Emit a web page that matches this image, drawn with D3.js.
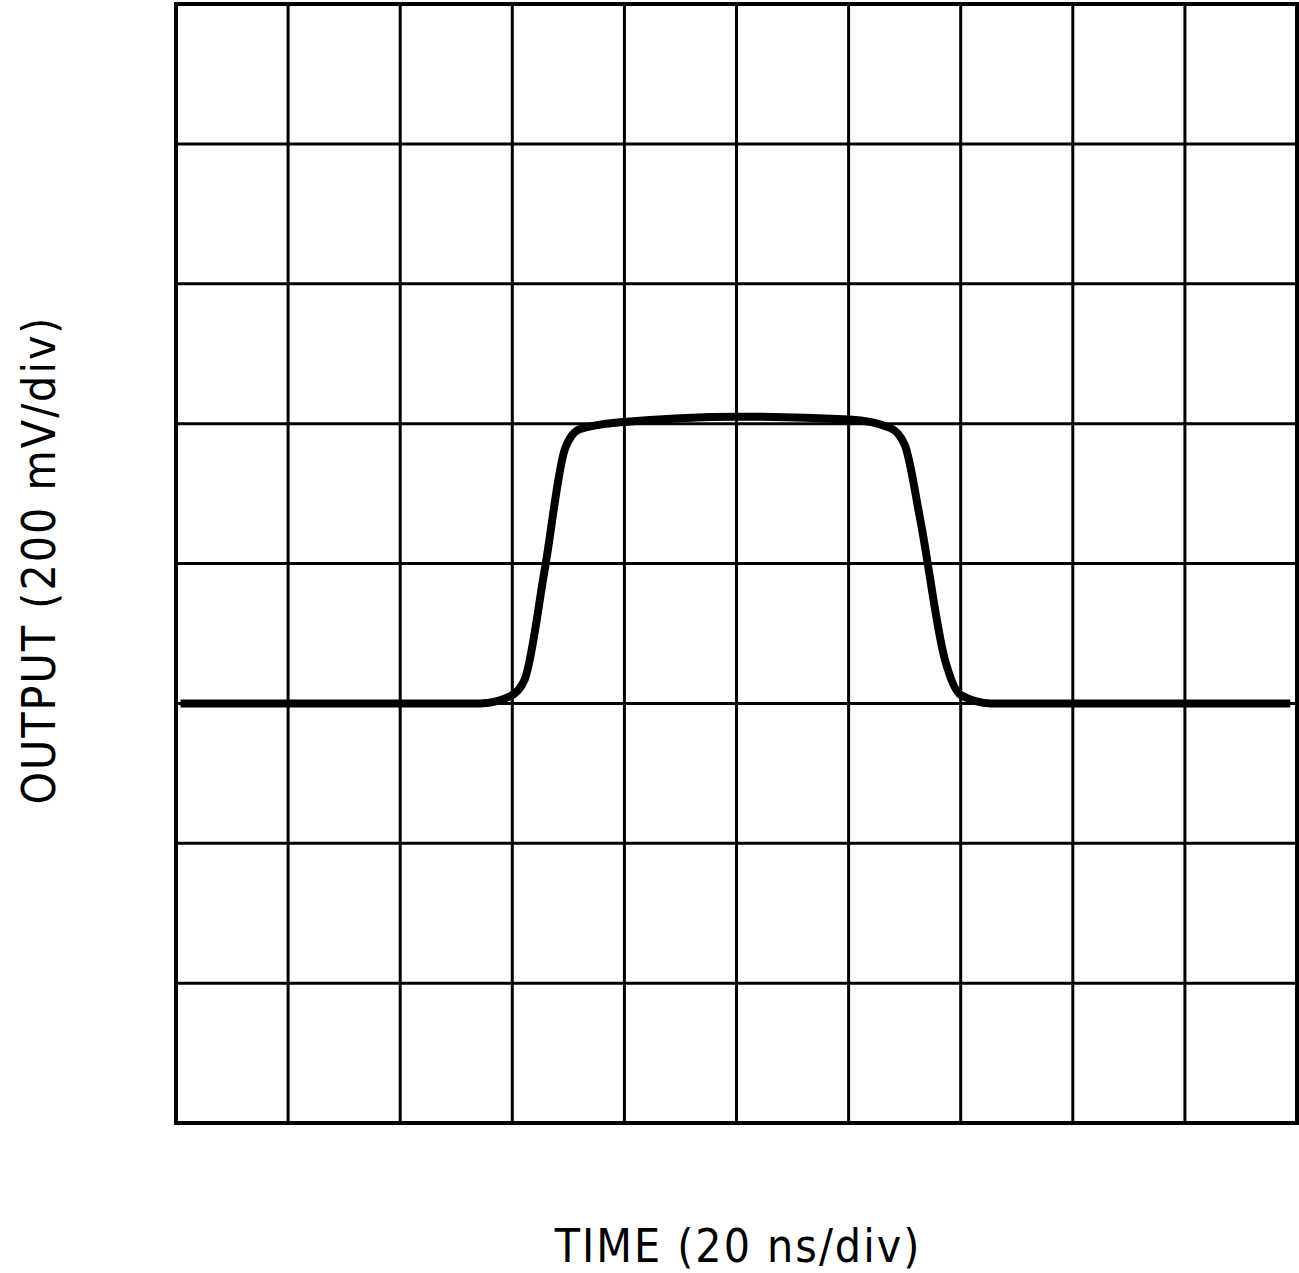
<!DOCTYPE html>
<html>
<head>
<meta charset="utf-8">
<script src="https://cdn.jsdelivr.net/npm/d3@7"></script>
<style>body{margin:0;background:#fff}</style>
</head>
<body>
<svg id="chart" width="1299" height="1273"></svg>
<script>
// waveform in divisions (x: 0..10 time div, y: 0..8 output div)
const timeDiv = [0.04, 2.71, 2.98, 3.11, 3.29, 3.47, 3.6, 3.96, 5.03, 6.01, 6.37, 6.5, 6.64, 6.86, 7.0, 7.27, 9.94];
const outDiv  = [3, 3, 3.05, 3.17, 3.96, 4.82, 4.96, 5.01, 5.05, 5.03, 4.97, 4.85, 4.31, 3.31, 3.06, 3.0, 3];
const xLabel = "TIME (20 ns/div)";
const yLabel = "OUTPUT (200 mV/div)";

const svg = d3.select("#chart");
const pLeft = 176, pRight = 1297, pTop = 4, pBottom = 1123;
const x = d3.scaleLinear().domain([0, 10]).range([pLeft, pRight]);
const y = d3.scaleLinear().domain([0, 8]).range([pBottom, pTop]);

const grid = svg.append("g").attr("stroke", "#000").attr("stroke-width", 3);
grid.selectAll(".v").data(d3.range(1, 10)).join("line").attr("class", "v")
  .attr("x1", d => x(d)).attr("x2", d => x(d)).attr("y1", pTop).attr("y2", pBottom);
grid.selectAll(".h").data(d3.range(1, 8)).join("line").attr("class", "h")
  .attr("y1", d => y(d)).attr("y2", d => y(d)).attr("x1", pLeft).attr("x2", pRight);
svg.append("rect").attr("x", pLeft).attr("y", pTop).attr("width", pRight - pLeft).attr("height", pBottom - pTop)
  .attr("fill", "none").attr("stroke", "#000").attr("stroke-width", 4);

const pts = timeDiv.map((t, i) => [t, outDiv[i]]);
svg.append("path").datum(pts)
  .attr("fill", "none").attr("stroke", "#000").attr("stroke-width", 8).attr("stroke-linejoin", "round")
  .attr("d", d3.line().x(d => x(d[0])).y(d => y(d[1])).curve(d3.curveMonotoneX));

svg.append("text").attr("x", 738).attr("y", 1262).attr("text-anchor", "middle")
  .attr("font-family", "DejaVu Sans Condensed, DejaVu Sans, sans-serif").attr("font-size", 46)
  .attr("letter-spacing", 2).text(xLabel);
svg.append("text").attr("transform", "translate(55,560) rotate(-90)").attr("text-anchor", "middle")
  .attr("font-family", "DejaVu Sans Condensed, DejaVu Sans, sans-serif").attr("font-size", 46)
  .attr("letter-spacing", 2).text(yLabel);
</script>
</body>
</html>
